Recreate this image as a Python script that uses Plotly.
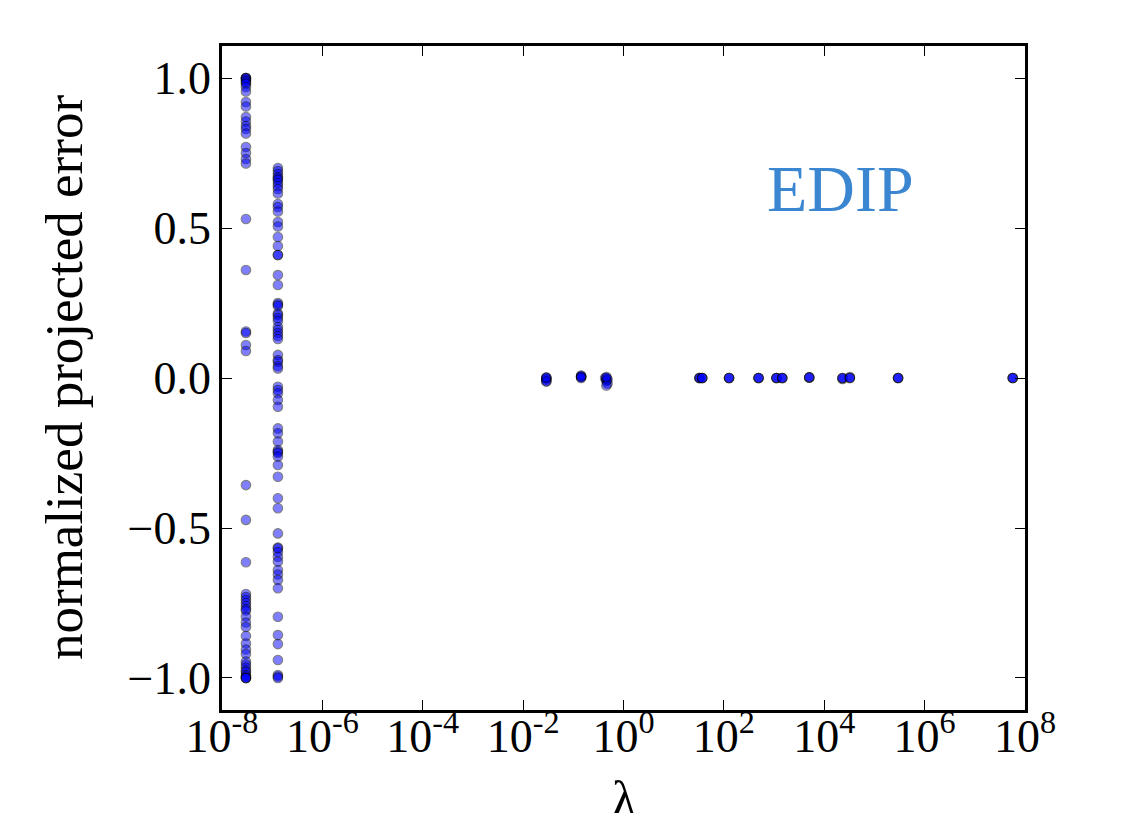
import plotly.graph_objects as go

# ---- data ----
lam_col1 = 3.0e-8
err_col1 = [1.0, 1.0, 1.0, 0.995, 0.99, 0.985, 0.98, 0.97, 0.955, 0.92, 0.905, 0.87,
            0.855, 0.84, 0.83, 0.815, 0.77, 0.75, 0.73, 0.715, 0.53, 0.36, 0.155,
            0.15, 0.11, 0.09,
            -0.357, -0.473, -0.614, -0.72, -0.73, -0.74, -0.75, -0.76, -0.77,
            -0.775, -0.795, -0.815, -0.83, -0.86, -0.885, -0.905, -0.92, -0.945,
            -0.955, -0.965, -0.975, -0.98, -0.99, -0.995, -1.0, -1.0, -1.0]

lam_col2 = 1.3e-7
err_col2 = [0.70, 0.69, 0.68, 0.67, 0.665, 0.66, 0.65, 0.64, 0.63, 0.615, 0.58,
            0.57, 0.555, 0.52, 0.505, 0.47, 0.44, 0.41, 0.41, 0.343, 0.31, 0.25,
            0.245, 0.24, 0.215, 0.21, 0.2, 0.19, 0.17, 0.16, 0.15, 0.14, 0.13,
            0.077, 0.06, 0.054, 0.04, 0.032, -0.029, -0.04, -0.051, -0.073,
            -0.096, -0.168, -0.184, -0.212, -0.24, -0.246, -0.25, -0.262, -0.29,
            -0.329, -0.401, -0.434, -0.518, -0.565, -0.568, -0.58, -0.596,
            -0.612, -0.64, -0.655, -0.673, -0.701, -0.796, -0.857, -0.887,
            -0.94, -0.99, -0.995, -1.0]

lam_cluster = [0.029, 0.029, 0.029, 0.029, 0.029, 0.029,
               0.143, 0.143, 0.143, 0.143, 0.143,
               0.43, 0.457, 0.457, 0.457, 0.48, 0.48, 0.457, 0.457,
               32.7, 32.7, 32.7, 37.0, 37.0, 37.0,
               127.0, 127.0, 127.0,
               491.0, 491.0, 491.0,
               1117.0, 1117.0, 1117.0, 1456.0, 1456.0, 1456.0,
               5030.0, 5030.0, 5030.0,
               23070.0, 23070.0, 23070.0, 32400.0, 32400.0, 32400.0,
               296000.0, 296000.0, 296000.0,
               5.7e7, 5.7e7, 5.7e7]
err_cluster = [0.0, 0.0, -0.005, -0.01, -0.012, 0.002,
               0.005, 0.005, 0.003, 0.008, 0.0,
               0.0, 0.0, -0.005, -0.01, -0.018, -0.005, -0.025, 0.003,
               0.0, 0.0, 0.0, 0.0, 0.0, 0.0,
               0.0, 0.0, 0.0,
               0.0, 0.0, 0.0,
               0.0, 0.0, 0.0, 0.0, 0.0, 0.0,
               0.002, 0.002, 0.002,
               -0.003, 0.0, 0.0, 0.003, 0.0, 0.0,
               0.0, 0.0, 0.0,
               0.0, 0.0, 0.0]

x_tick_vals = [1e-8, 1e-6, 1e-4, 1e-2, 1e0, 1e2, 1e4, 1e6, 1e8]
x_tick_text = ["10<sup>-8</sup>", "10<sup>-6</sup>", "10<sup>-4</sup>", "10<sup>-2</sup>",
               "10<sup>0</sup>", "10<sup>2</sup>", "10<sup>4</sup>", "10<sup>6</sup>",
               "10<sup>8</sup>"]
y_tick_vals = [-1.0, -0.5, 0.0, 0.5, 1.0]
y_tick_text = ["\u22121.0", "\u22120.5", "0.0", "0.5", "1.0"]

label_text = "EDIP"
x_title = "\u03bb"
y_title = "normalized projected error"

# ---- figure ----
xs = [lam_col1] * len(err_col1) + [lam_col2] * len(err_col2) + lam_cluster
ys = err_col1 + err_col2 + err_cluster

FONT = "Liberation Serif"

fig = go.Figure()
fig.add_trace(go.Scatter(
    x=xs, y=ys, mode="markers",
    marker=dict(size=9.5, color="#0000ff", opacity=0.5,
                line=dict(color="black", width=1.1)),
    showlegend=False, hoverinfo="skip",
))

axis_common = dict(
    showline=True, linecolor="black", linewidth=2.5, mirror="allticks",
    ticks="inside", ticklen=10, tickwidth=1.3, tickcolor="black",
    showgrid=False, zeroline=False,
    tickfont=dict(family=FONT, size=46, color="black"),
)

fig.update_xaxes(type="log", range=[-8, 8], tickvals=x_tick_vals,
                 ticktext=x_tick_text, ticklabelstandoff=-16, **axis_common)
fig.update_yaxes(range=[-1.1067, 1.1067], tickvals=y_tick_vals,
                 ticktext=y_tick_text, ticklabelstandoff=-1, **axis_common)

fig.add_annotation(x=0.77, y=0.785, xref="paper", yref="paper",
                   text=label_text, showarrow=False,
                   font=dict(family=FONT, size=66, color="#3a86d0"),
                   xanchor="center", yanchor="middle")
fig.add_annotation(x=0.5, y=0, xref="paper", yref="paper", yshift=-59,
                   text=x_title, showarrow=False, yanchor="top",
                   font=dict(family=FONT, size=50, color="black"))
fig.add_annotation(x=0, y=0.5, xref="paper", yref="paper", xshift=-158,
                   text=y_title, showarrow=False, textangle=-90,
                   xanchor="center", yanchor="middle",
                   font=dict(family=FONT, size=53, color="black"))

fig.update_layout(
    width=1119, height=805,
    margin=dict(l=214, r=102, t=38, b=103),
    paper_bgcolor="white", plot_bgcolor="white",
)

fig.write_html("out.html")
